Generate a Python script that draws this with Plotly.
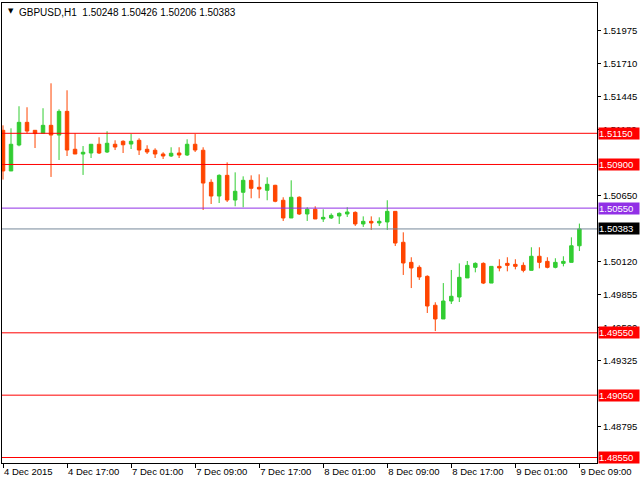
import plotly.graph_objects as go

# ---- data (GBPUSD H1) ----
hours_4dec = [f"2015-12-04 {h:02d}:00" for h in range(9, 24)]
hours_7dec = [f"2015-12-07 {h:02d}:00" for h in range(0, 24)]
hours_8dec = [f"2015-12-08 {h:02d}:00" for h in range(0, 24)]
hours_9dec = [f"2015-12-09 {h:02d}:00" for h in range(0, 10)]
times = hours_4dec + hours_7dec + hours_8dec + hours_9dec

opens = [1.51174, 1.50848, 1.51056, 1.51238, 1.51174, 1.51150, 1.51214, 1.51136, 1.51326, 1.51022,
         1.50984, 1.50992, 1.51062, 1.51000, 1.51062, 1.51086, 1.51064, 1.51094, 1.51022, 1.51014,
         1.50984, 1.50968, 1.50992, 1.50976, 1.51062, 1.51014, 1.50757, 1.50647, 1.50813, 1.50615,
         1.50677, 1.50773, 1.50717, 1.50693, 1.50733, 1.50613, 1.50471, 1.50637, 1.50503, 1.50541,
         1.50463, 1.50471, 1.50487, 1.50503, 1.50516, 1.50423, 1.50444, 1.50431, 1.50439, 1.50524,
         1.50276, 1.50115, 1.50075, 1.50003, 1.49771, 1.49661, 1.49805, 1.49837, 1.49990, 1.50075,
         1.50107, 1.49949, 1.50083, 1.50107, 1.50099, 1.50091, 1.50051, 1.50164, 1.50123, 1.50075,
         1.50107, 1.50115, 1.50248]
highs = [1.51214, 1.51190, 1.51367, 1.51359, 1.51176, 1.51351, 1.51551, 1.51342, 1.51495, 1.51150,
         1.51048, 1.51062, 1.51118, 1.51166, 1.51094, 1.51094, 1.51144, 1.51110, 1.51054, 1.51030,
         1.50998, 1.51038, 1.51038, 1.51102, 1.51144, 1.51038, 1.50781, 1.50821, 1.50917, 1.50837,
         1.50805, 1.50813, 1.50821, 1.50797, 1.50737, 1.50637, 1.50773, 1.50645, 1.50557, 1.50565,
         1.50541, 1.50508, 1.50516, 1.50557, 1.50524, 1.50484, 1.50484, 1.50476, 1.50613, 1.50526,
         1.50356, 1.50156, 1.50091, 1.50011, 1.49795, 1.49949, 1.50054, 1.50107, 1.50126, 1.50115,
         1.50115, 1.50083, 1.50140, 1.50156, 1.50140, 1.50115, 1.50236, 1.50236, 1.50156, 1.50148,
         1.50164, 1.50316, 1.50426]
lows = [1.50779, 1.50848, 1.51046, 1.51150, 1.51032, 1.51150, 1.50800, 1.50936, 1.50968, 1.50984,
        1.50816, 1.50952, 1.50984, 1.50992, 1.51016, 1.50992, 1.51024, 1.50976, 1.50984, 1.50952,
        1.50944, 1.50960, 1.50952, 1.50968, 1.51000, 1.50535, 1.50583, 1.50591, 1.50599, 1.50565,
        1.50557, 1.50629, 1.50629, 1.50613, 1.50597, 1.50447, 1.50471, 1.50495, 1.50447, 1.50463,
        1.50439, 1.50463, 1.50423, 1.50479, 1.50407, 1.50399, 1.50375, 1.50407, 1.50375, 1.50246,
        1.50014, 1.49909, 1.49974, 1.49709, 1.49564, 1.49661, 1.49781, 1.49797, 1.49990, 1.50035,
        1.49941, 1.49949, 1.50043, 1.50043, 1.50059, 1.50035, 1.50051, 1.50067, 1.50067, 1.50067,
        1.50083, 1.50115, 1.50206]
closes = [1.50848, 1.51062, 1.51238, 1.51168, 1.51148, 1.51214, 1.51136, 1.51326, 1.51016, 1.50984,
          1.50998, 1.51062, 1.50992, 1.51070, 1.51040, 1.51058, 1.51086, 1.51016, 1.51000, 1.50984,
          1.50968, 1.50990, 1.50976, 1.51062, 1.51016, 1.50751, 1.50647, 1.50813, 1.50615, 1.50685,
          1.50773, 1.50709, 1.50703, 1.50741, 1.50605, 1.50471, 1.50637, 1.50503, 1.50541, 1.50463,
          1.50476, 1.50492, 1.50508, 1.50519, 1.50423, 1.50444, 1.50431, 1.50444, 1.50524, 1.50270,
          1.50110, 1.50070, 1.49998, 1.49765, 1.49661, 1.49805, 1.49843, 1.49995, 1.50091, 1.50107,
          1.49949, 1.50083, 1.50070, 1.50091, 1.50083, 1.50051, 1.50164, 1.50115, 1.50075, 1.50115,
          1.50123, 1.50248, 1.50383]

x_tick_times = ["2015-12-04 09:00", "2015-12-04 17:00", "2015-12-07 01:00", "2015-12-07 09:00",
                "2015-12-07 17:00", "2015-12-08 01:00", "2015-12-08 09:00", "2015-12-08 17:00",
                "2015-12-09 01:00", "2015-12-09 09:00"]
x_tick_labels = ["4 Dec 2015", "4 Dec 17:00", "7 Dec 01:00", "7 Dec 09:00", "7 Dec 17:00",
                 "8 Dec 01:00", "8 Dec 09:00", "8 Dec 17:00", "9 Dec 01:00", "9 Dec 09:00"]
# price scale ticks that are not fully hidden behind the level labels
y_tick_vals = [1.51975, 1.51710, 1.51445, 1.51180, 1.50650, 1.50120,
               1.49855, 1.49590, 1.49325, 1.48795]

levels = [1.51150, 1.50900, 1.50550, 1.50383, 1.49550, 1.49050, 1.48550]
level_line_colors = ["#ff0000", "#ff0000", "#9130e6", "#778899", "#ff0000", "#ff0000", "#ff0000"]
level_box_colors = ["#ff0000", "#ff0000", "#9130e6", "#000000", "#ff0000", "#ff0000", "#ff0000"]

title_text = "GBPUSD,H1  1.50248 1.50426 1.50206 1.50383"

FONT = "Liberation Sans"
GREEN = "#32cd32"
RED = "#ff4500"

fig = go.Figure()
fig.add_trace(go.Candlestick(
    x=times, open=opens, high=highs, low=lows, close=closes,
    increasing=dict(fillcolor=GREEN, line=dict(color=GREEN, width=1)),
    decreasing=dict(fillcolor=RED, line=dict(color=RED, width=1)),
    whiskerwidth=0, showlegend=False, hoverinfo="skip",
))

shapes = []
for lv, c in zip(levels, level_line_colors):
    shapes.append(dict(type="line", xref="paper", x0=0, x1=1, yref="y", y0=lv, y1=lv,
                       line=dict(color=c, width=1), layer="above"))

annotations = []
for lv, c in zip(levels, level_box_colors):
    annotations.append(dict(xref="paper", x=1, xanchor="left", xshift=1, yref="y", y=lv,
                            yanchor="middle", text=f"{lv:.5f}", showarrow=False,
                            font=dict(family=FONT, size=9.5, color="white"),
                            bgcolor=c, width=40, height=11, align="left", borderpad=0))
annotations.append(dict(xref="paper", yref="paper", x=0.006, y=1, xanchor="left", yanchor="top",
                        yshift=-2, text="▼", showarrow=False,
                        font=dict(family="DejaVu Sans", size=7, color="black")))
annotations.append(dict(xref="paper", yref="paper", x=0.026, y=1, xanchor="left", yanchor="top",
                        yshift=-2, text=title_text, showarrow=False,
                        font=dict(family=FONT, size=10, color="black")))

fig.update_layout(
    width=640, height=480,
    margin=dict(l=2, r=43, t=3, b=17),
    paper_bgcolor="white", plot_bgcolor="white",
    font=dict(family=FONT, size=9.5, color="black"),
    boxgap=0.38,
    shapes=shapes, annotations=annotations,
    xaxis=dict(type="category", range=[-0.125, 74.2], rangeslider=dict(visible=False),
               showgrid=False, zeroline=False, showline=True, linecolor="black", linewidth=1,
               mirror=True, ticks="outside", ticklen=4, tickcolor="black",
               tickvals=x_tick_times, ticktext=x_tick_labels,
               ticklabelposition="outside right", tickfont=dict(family=FONT, size=9.5)),
    yaxis=dict(side="right", range=[1.48506, 1.52195], showgrid=False, zeroline=False,
               showline=True, linecolor="black", linewidth=1, mirror=True,
               ticks="outside", ticklen=3, tickcolor="black", tickvals=y_tick_vals,
               tickformat=".5f", tickfont=dict(family=FONT, size=9.5)),
)

fig.write_html("out.html")
